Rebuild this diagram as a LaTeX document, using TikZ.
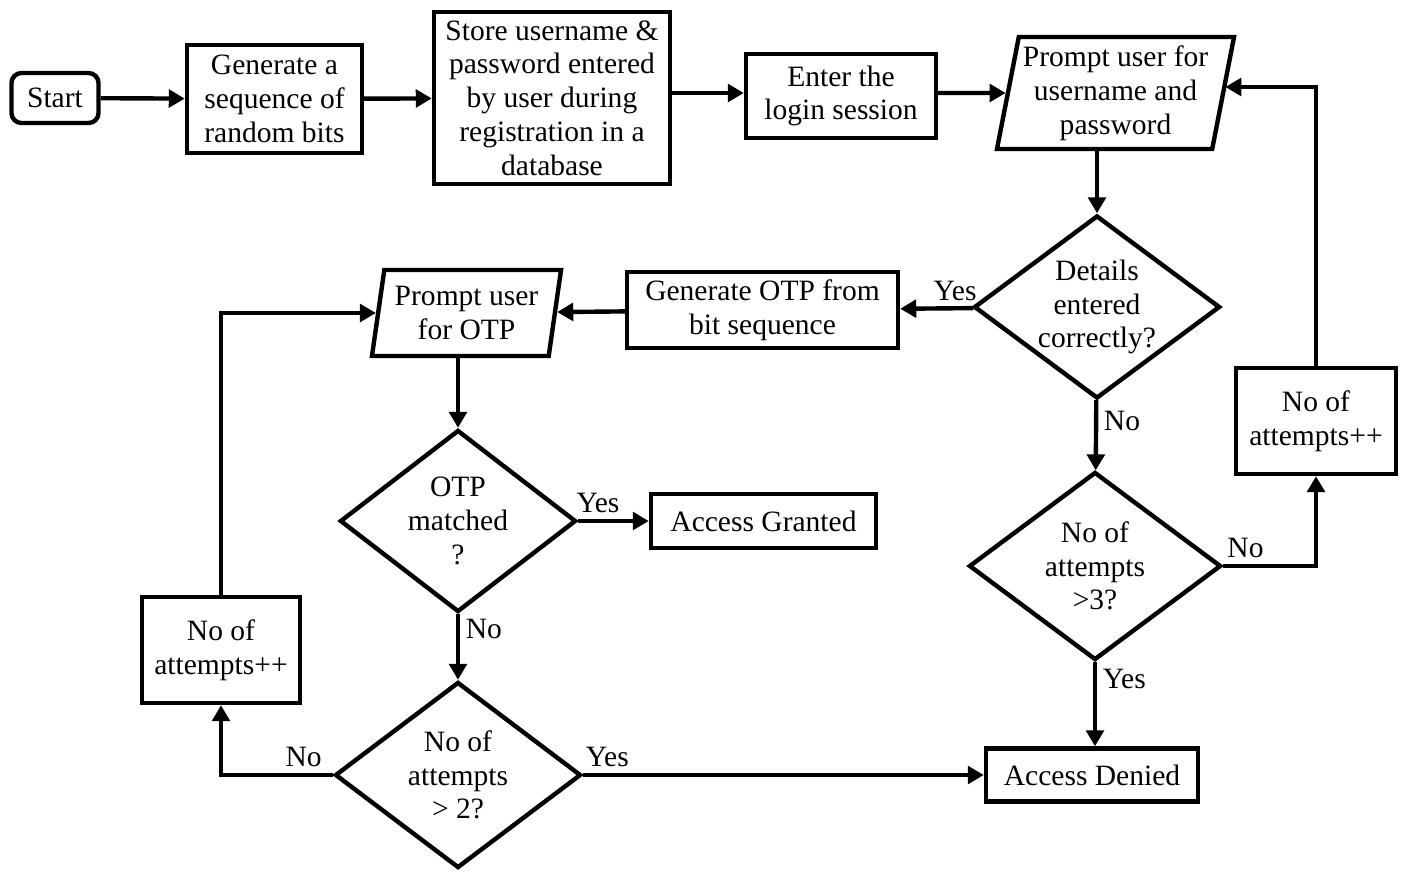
\documentclass[tikz,border=0pt]{standalone}
\usepackage{fontspec}
\setmainfont{Liberation Serif}
\usepackage{tikz}
\usetikzlibrary{shapes.geometric}
\usetikzlibrary{arrows.meta}
\tikzset{box/.style={draw, line width=0.11cm, align=center, inner sep=0pt,
                     font=\fontsize{21}{24}\selectfont},
         decision/.style={box, diamond, aspect=1.34},
         io/.style={box, trapezium, trapezium left angle=77,
                    trapezium right angle=103, trapezium stretches body},
         flow/.style={line width=0.11cm, -{Triangle[length=0.4cm,width=0.44cm]}},
         answer/.style={inner sep=4pt, font=\fontsize{21}{24}\selectfont}}

\begin{document}
\begin{tikzpicture}[x=0.025cm, y=-0.025cm]
\useasboundingbox (0,0) rectangle (1406,874);
% Obere Reihe:
\node[box, rounded corners=0.25cm, minimum width=2.175cm, minimum height=1.25cm] (start) at (55,98) {Start};
\node[box, minimum width=4.375cm, minimum height=2.7cm] (bits) at (274.5,99) {Generate a\\sequence of\\random bits};
\node[box, minimum width=5.9cm, minimum height=4.3cm] (store) at (552,98) {Store username \&\\password entered\\by user during\\registration in a\\database};
\node[box, minimum width=4.75cm, minimum height=2.1cm] (login) at (841,96) {Enter the\\login session};
\node[io, minimum width=5.925cm, minimum height=2.8cm] (creds) at (1115.5,93) {Prompt user for\\username and\\password};
% Pruefung der Daten:
\node[decision, minimum width=6.15cm, minimum height=4.575cm] (details) at (1097,307) {Details\\entered\\correctly?};
\node[box, minimum width=6.775cm, minimum height=1.9cm] (genotp) at (762.5,310) {Generate OTP from\\bit sequence};
\node[io, minimum width=4.725cm, minimum height=2.15cm] (otpin) at (466.5,313) {Prompt user\\for OTP};
\node[decision, minimum width=5.9cm, minimum height=4.55cm] (match) at (458,521) {OTP\\matched\\?};
\node[box, minimum width=5.625cm, minimum height=1.35cm] (granted) at (763.5,521) {Access Granted};
\node[box, minimum width=3.95cm, minimum height=2.65cm] (countl) at (221,650) {No of\\attempts++};
\node[decision, minimum width=6.15cm, minimum height=4.65cm] (limitl) at (458,775) {No of\\attempts\\> 2?};
\node[box, minimum width=5.3cm, minimum height=1.325cm] (denied) at (1092,775) {Access Denied};
\node[decision, minimum width=6.3cm, minimum height=4.7cm] (limitr) at (1095,566) {No of\\attempts\\>3?};
\node[box, minimum width=4cm, minimum height=2.65cm] (countr) at (1316,421) {No of\\attempts++};
% Pfeile:
\foreach \a/\b in {start/bits,bits/store,genotp/otpin}
  \draw[flow] (\a) -- (\b);
\draw[flow] (store.east |- 0,93) -- (login.west |- 0,93);
\draw[flow] (login.east |- creds) -- (creds);
\draw[flow] (creds.south -| details) -- (details);
\draw[flow] (details) -- node[answer, above, pos=0.25] {Yes} (genotp);
\draw[flow] (otpin.south -| match) -- (match);
\draw[flow] (match) -- node[answer, above, pos=0.28] {Yes} (granted);
\draw[flow] (match) -- node[answer, right, pos=0.22] {No} (limitl);
\draw[flow] (limitl) -| node[answer, above, pos=0.13] {No} (countl);
\draw[flow] (countl) |- (otpin);
\draw[flow] (limitl) -- node[answer, above, pos=0.06] {Yes} (denied);
\draw[flow] (details) -- node[answer, right, pos=0.3] {No} (limitr);
\draw[flow] (limitr) -- node[answer, right, pos=0.2] {Yes} (limitr.south |- denied.north);
\draw[flow] (limitr) -| node[answer, above, pos=0.12] {No} (countr);
\draw[flow] (countr) |- ([yshift=0.15cm]creds.east);
\end{tikzpicture}
\end{document}
